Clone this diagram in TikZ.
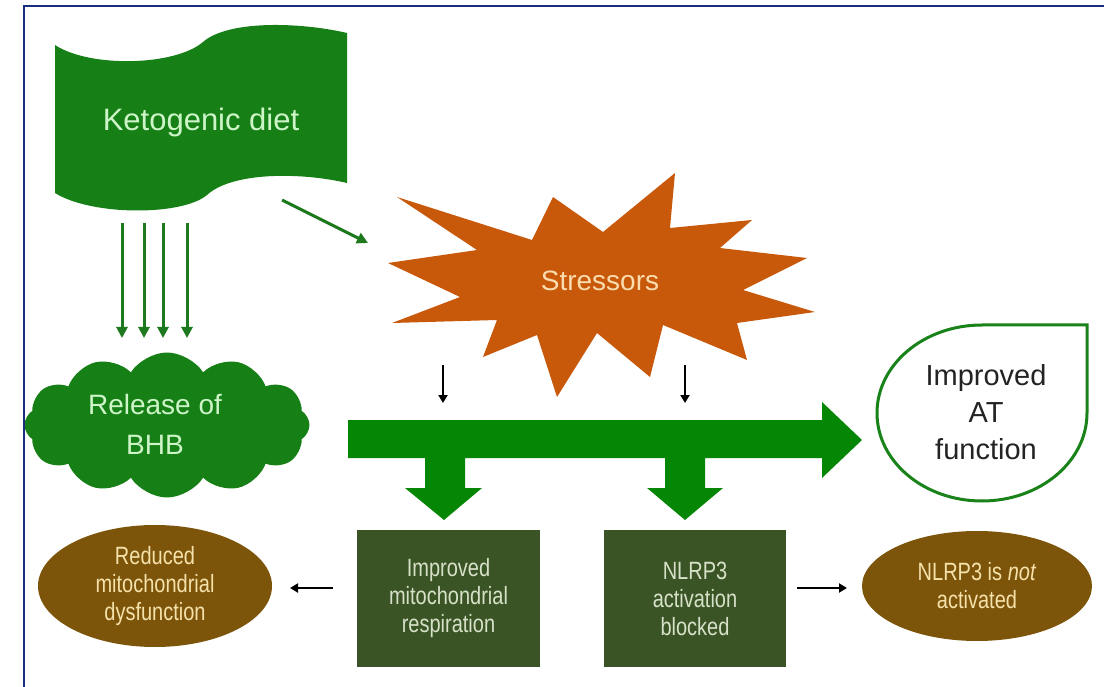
\documentclass[tikz,border=0pt]{standalone}
\usepackage{fontspec}
\setmainfont{Liberation Sans}
\newfontfamily\narrowfont[FakeStretch=0.8]{Liberation Sans}
\usetikzlibrary{arrows.meta,shapes.symbols,shapes.geometric}
\definecolor{framec}{RGB}{25,45,125}
\definecolor{ketog}{RGB}{22,128,22}
\definecolor{ketot}{RGB}{205,245,200}
\definecolor{arrowg}{RGB}{30,120,30}
\definecolor{bigg}{RGB}{5,135,5}
\definecolor{stresso}{RGB}{200,88,10}
\definecolor{stresst}{RGB}{250,220,175}
\definecolor{boxg}{RGB}{58,84,38}
\definecolor{boxt}{RGB}{215,225,200}
\definecolor{ellb}{RGB}{125,85,10}
\definecolor{ellt}{RGB}{245,225,170}
\definecolor{atg}{RGB}{25,130,25}
\definecolor{attc}{RGB}{35,35,35}
\begin{document}
\begin{tikzpicture}[x=1pt,y=-1pt,
  thinarrow/.style={arrowg, line width=3pt, -{Triangle[length=11pt,width=11pt]}},
  blackarrow/.style={black, line width=2pt, -{Triangle[length=8pt,width=9pt]}},
  bigtext/.style={font=\fontsize{31}{38}\selectfont, align=center},
  smalltext/.style={font=\narrowfont\fontsize{25}{28}\selectfont, align=center},
  darkbox/.style={rectangle, fill=boxg, inner sep=0pt, text=boxt, smalltext},
  brownell/.style={ellipse, fill=ellb, inner sep=0pt, text=ellt, smalltext}
]
\useasboundingbox (0,0) rectangle (1104,687);
\fill[white] (0,0) rectangle (1104,687);

% Ketogenic diet banner
\fill[ketog] (55,45) .. controls (90,68) and (175,66) .. (203,42)
  .. controls (228,20) and (300,22) .. (347,33) -- (347,183)
  .. controls (300,172) and (232,172) .. (207,195)
  .. controls (182,216) and (92,216) .. (55,193) -- cycle;
\node[bigtext, text=ketot] (keto) at (201,122) {Ketogenic diet};

% Release of BHB cloud
\node[cloud, cloud puffs=12, cloud puff arc=115, aspect=1.9, fill=ketog,
  minimum width=285pt, minimum height=145pt, inner sep=0pt] (bhbcloud) at (167,425) {};
\node[font=\fontsize{28}{40}\selectfont, align=center, text=ketot] (bhb) at (155,424) {Release of\\BHB};

% Stressors starburst
\fill[stresso] (397,197) -- (532,240) -- (553,197) -- (603,232) -- (675,173) -- (670,228)
  -- (752,220) -- (720,248) -- (807,258) -- (743,290) -- (815,312) -- (737,323)
  -- (747,360) -- (663,325) -- (650,377) -- (597,333) -- (557,397) -- (537,335)
  -- (483,357) -- (497,320) -- (392,323) -- (460,297) -- (388,263) -- (477,250) -- cycle;
\node[font=\fontsize{28}{34}\selectfont, text=stresst] (stress) at (600,281) {Stressors};

% Big green arrow with two branches
\fill[bigg] (348,420) -- (822,420) -- (822,402) -- (862,440) -- (822,478) -- (822,458)
  -- (705,458) -- (705,488) -- (723,488) -- (685,520) -- (647,488) -- (665,488)
  -- (665,458) -- (465,458) -- (465,488) -- (482,488) -- (444,520) -- (405,488)
  -- (425,488) -- (425,458) -- (348,458) -- cycle;

% Improved AT function
\draw[atg, line width=3pt, fill=white] (982,325) -- (1087,325) -- (1087,413)
  arc[start angle=0, end angle=270, x radius=105, y radius=88] -- cycle;
\node[font=\fontsize{29}{37}\selectfont, align=center, text=attc] (at) at (986,412) {Improved\\AT\\function};

% Boxes
\node[darkbox, minimum width=183pt, minimum height=137pt] (resp) at (448.5,598.5) {Improved\\mitochondrial\\respiration};
\node[darkbox, minimum width=182pt, minimum height=137pt] (nlrp) at (695,598.5) {NLRP3\\activation\\blocked};

% Ellipses
\node[brownell, minimum width=234pt, minimum height=122pt] (redu) at (155,586) {Reduced\\mitochondrial\\dysfunction};
\node[brownell, minimum width=230pt, minimum height=110pt] (notact) at (977,586) {NLRP3 is \textit{not}\\activated};

% Thin green arrows from the diet
\coordinate (k1) at (122,223); \coordinate (c1) at (122,338);
\coordinate (k2) at (144,223); \coordinate (c2) at (144,338);
\coordinate (k3) at (163,223); \coordinate (c3) at (163,338);
\coordinate (k4) at (187,223); \coordinate (c4) at (187,338);
\draw[thinarrow] (k1) -- (c1);
\draw[thinarrow] (k2) -- (c2);
\draw[thinarrow] (k3) -- (c3);
\draw[thinarrow] (k4) -- (c4);
\coordinate (ks) at (282,200); \coordinate (se) at (368,243);
\draw[thinarrow] (ks) -- (se);

% Black arrows
\coordinate (s1) at (443,365); \coordinate (b1) at (443,403);
\coordinate (s2) at (685,365); \coordinate (b2) at (685,403);
\draw[blackarrow] (s1) -- (b1);
\draw[blackarrow] (s2) -- (b2);
\coordinate (ra) at (333,588); \coordinate (rb) at (290,588);
\coordinate (na) at (797,588); \coordinate (nb) at (847,588);
\draw[blackarrow] (ra) -- (rb);
\draw[blackarrow] (na) -- (nb);

% Frame
\draw[framec, line width=2.5pt] (1104,6) -- (24,6) -- (24,687);
\end{tikzpicture}
\end{document}
